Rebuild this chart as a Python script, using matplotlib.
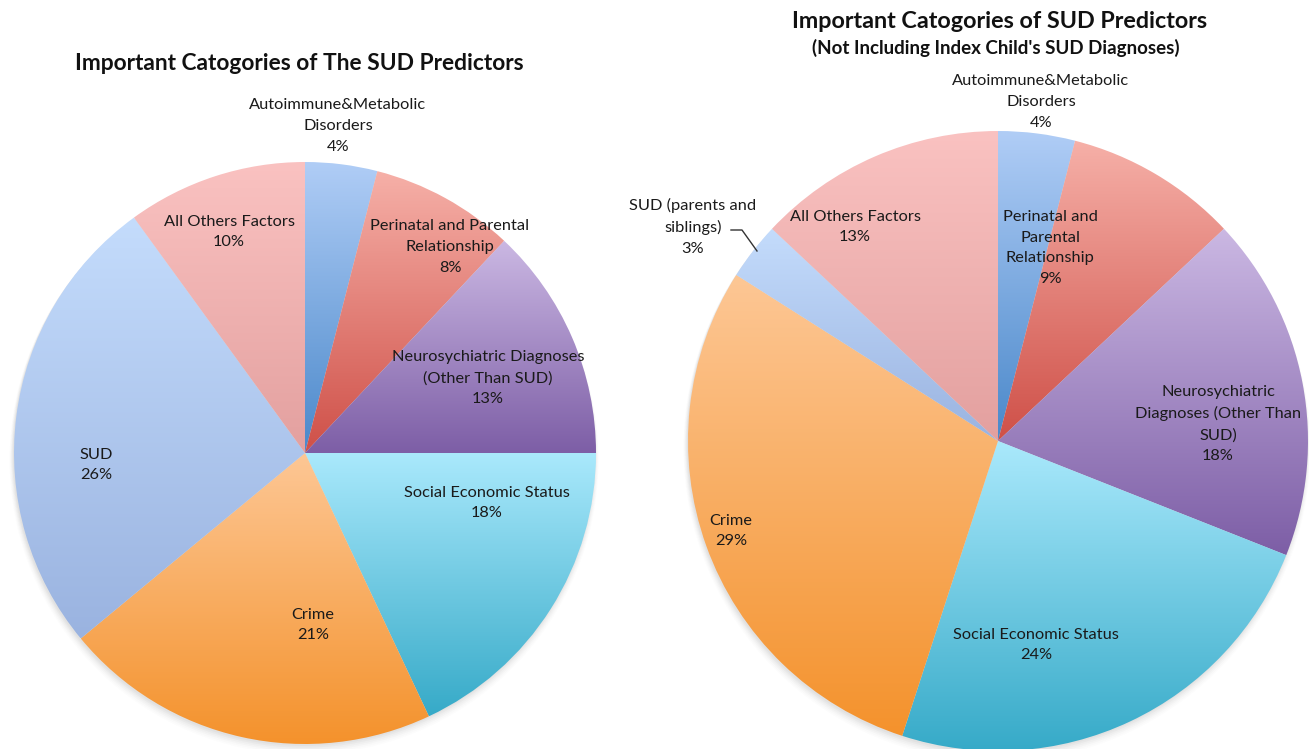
import numpy as np
import matplotlib
matplotlib.use("Agg")
import matplotlib.pyplot as plt
from matplotlib.colors import to_rgb

# ---------------- data ----------------
left_labels = ["Autoimmune&Metabolic\nDisorders", "Perinatal and Parental\nRelationship",
               "Neurosychiatric Diagnoses\n(Other Than SUD)", "Social Economic Status",
               "Crime", "SUD", "All Others Factors"]
left_values = [4, 8, 13, 18, 21, 26, 10]

right_labels = ["Autoimmune&Metabolic\nDisorders", "Perinatal and\nParental\nRelationship",
                "Neurosychiatric\nDiagnoses (Other Than\nSUD)", "Social Economic Status",
                "Crime", "SUD (parents and\nsiblings)", "All Others Factors"]
right_values = [4, 9, 18, 24, 29, 3, 13]

left_title = "Important Catogories of The SUD Predictors"
right_title = "Important Catogories of SUD Predictors"
right_subtitle = "(Not Including Index Child's SUD Diagnoses)"

# ---------------- style ----------------
grad = {
    "auto": ("#b0cdf6", "#4a88ca"),
    "peri": ("#f6b0a8", "#cf5048"),
    "neuro": ("#cbb8e3", "#7d5ea6"),
    "ses": ("#aae9fc", "#36aac8"),
    "crime": ("#fdc795", "#f4922c"),
    "sud": ("#c4dcfc", "#9ab3e0"),
    "other": ("#fac2c1", "#e3a09f"),
}
order = ["auto", "peri", "neuro", "ses", "crime", "sud", "other"]

W, H = 1309, 749
FONT = "Lato"
plt.rcParams["font.family"] = [FONT, "DejaVu Sans"]

fig = plt.figure(figsize=(W / 100, H / 100), dpi=100)
ax = fig.add_axes([0, 0, 1, 1])


def py(y):  # pixel row -> data y
    return H - y


def gradient_pie(values, center, radius):
    wedges, _ = ax.pie(values, startangle=90, counterclock=False, center=center,
                       radius=radius, wedgeprops=dict(linewidth=0))
    for w, key in zip(wedges, order):
        w.set_facecolor("none")
        ext = w.get_path().get_extents()
        top, bot = np.array(to_rgb(grad[key][0])), np.array(to_rgb(grad[key][1]))
        t = np.linspace(0, 1, 256)[:, None, None]
        img = top * (1 - t) + bot * t
        im = ax.imshow(img, extent=(ext.x0, ext.x1, ext.y0, ext.y1), origin="upper",
                       interpolation="bilinear", aspect="auto", zorder=1)
        im.set_clip_path(w)
    return wedges


# soft shadow under pies
for (cx, cy, r) in [(305, 453, 291), (998, 441, 310)]:
    for k, a in zip(range(6), [0.06, 0.05, 0.04, 0.03, 0.02, 0.015]):
        ax.add_patch(plt.Circle((cx - 1, py(cy) - 2 - k), r + k * 0.7, color="0.45",
                                alpha=a, zorder=0, lw=0))

gradient_pie(left_values, (305, py(453)), 291)
gradient_pie(right_values, (998, py(441)), 310)

# label positions (pixels)
left_pos = [(338, 126), (450, 247), (488, 378), (487, 503), (313, 625), (96, 465), (229, 232)]
right_pos = [(1041, 102), (1050, 248), (1218, 424), (1036, 645), (731, 531), (693, 227), (855, 227)]

fs = 11.8
for labs, vals, pos in [(left_labels, left_values, left_pos), (right_labels, right_values, right_pos)]:
    for lab, v, (x, y) in zip(labs, vals, pos):
        ax.text(x, py(y), f"{lab}\n{v}%", ha="center", va="center", fontsize=fs,
                color="#1a1a1a", linespacing=1.62, zorder=5)

# leader line for the SUD (parents and siblings) label
ax.plot([731, 742, 757], [py(230), py(230), py(251)], color="#333333", lw=1, zorder=5)

ax.text(299, py(63), left_title, ha="center", va="center", fontsize=16.4,
        fontweight="bold", color="#111111")
ax.text(1000, py(22), right_title, ha="center", va="center", fontsize=16.8,
        fontweight="bold", color="#111111")
ax.text(996, py(48), right_subtitle, ha="center", va="center", fontsize=13.5,
        fontweight="bold", color="#111111")

ax.set_xlim(0, W)
ax.set_ylim(0, H)
ax.set_aspect("equal")
ax.axis("off")
fig.savefig("out.png", dpi=100, facecolor="white")
